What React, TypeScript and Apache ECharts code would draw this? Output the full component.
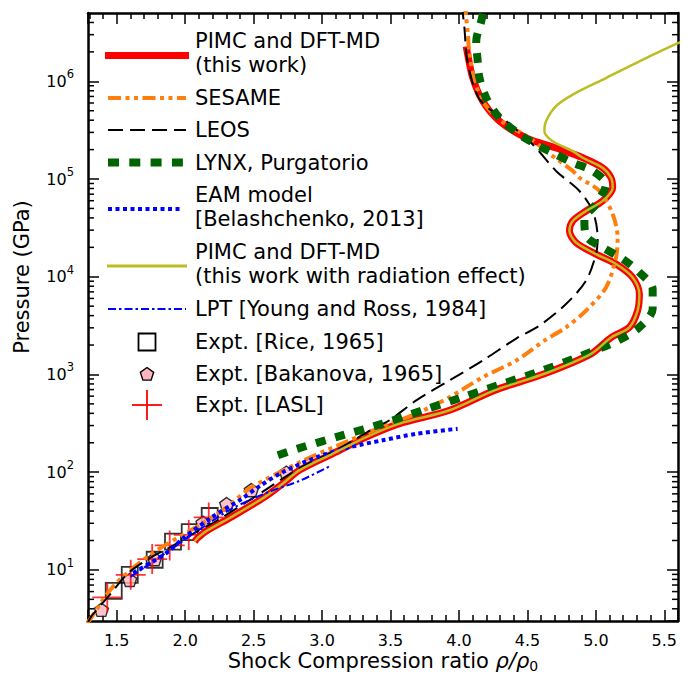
import React, { useEffect, useRef } from 'react';
import * as echarts from 'echarts';

const FONT = "'DejaVu Sans', 'Liberation Sans', sans-serif";
const X_MIN = 1.29;
const X_MAX = 5.6;
const Y_MIN = 3;
const Y_MAX = 5e6;

// PIMC and DFT-MD (this work): branch shared with the radiation curve
const thisWorkShared: [number, number][] = [
  [2.069, 19.5], [2.091, 21.2], [2.155, 25.0], [2.325, 34], [2.58, 55.6], [2.714, 76.7],
  [2.836, 105], [3.079, 155], [3.323, 229], [3.566, 314], [3.931, 430], [4.259, 687],
  [4.624, 1017], [4.965, 1626], [5.111, 2388], [5.245, 3040], [5.305, 4500], [5.318, 6650],
  [5.269, 9840], [5.147, 13500], [5.001, 17060], [4.855, 22400], [4.807, 29400],
  [4.831, 37200], [4.928, 47100], [5.05, 59700], [5.123, 81500], [5.111, 103000],
  [5.05, 130000], [4.904, 165000],
];
// this work, without radiation, high-pressure part
const thisWorkTop: [number, number][] = [
  [4.709, 208000], [4.49, 264000], [4.296, 391000], [4.174, 625000], [4.101, 1.08e6],
  [4.064, 1.87e6], [4.053, 2.28e6],
];
// this work, with radiation effect, high-pressure part
const radiationTop: [number, number][] = [
  [4.831, 193000], [4.685, 244000], [4.624, 309000], [4.636, 391000], [4.709, 556000],
  [4.831, 731000], [5.074, 1.08e6], [5.318, 1.6e6], [5.595, 2.44e6], [5.65, 2.6e6],
];
const sesame: [number, number][] = [
  [1.28, 2.85], [1.303, 3.09], [1.473, 6.76], [1.741, 14.2], [2.106, 28.8], [2.31, 44.3],
  [2.471, 68], [2.836, 126], [3.201, 212], [3.493, 314], [3.688, 397], [3.931, 586],
  [4.174, 938], [4.418, 1390], [4.624, 2220], [4.782, 3040], [4.928, 4500], [5.074, 7780],
  [5.147, 15700], [5.159, 25200], [5.123, 43600], [5.026, 75500], [4.88, 103000],
  [4.831, 121000], [4.636, 193000], [4.515, 264000], [4.3, 400000], [4.174, 625000],
  [4.11, 1.08e6], [4.075, 2.0e6], [4.064, 3.2e6], [4.053, 4.4e6], [4.048, 5.3e6],
];
const leos: [number, number][] = [
  [1.29, 2.9], [1.318, 3.4], [1.449, 5.56], [1.582, 9.25], [1.741, 13.2], [1.899, 17.3],
  [2.069, 23.9], [2.239, 32.4], [2.471, 51.8], [2.836, 110], [3.128, 176], [3.396, 290],
  [3.493, 340], [3.688, 543], [3.931, 869], [4.174, 1390], [4.418, 2330], [4.588, 3160],
  [4.782, 5260], [4.928, 9100], [5.001, 17100], [5.013, 25200], [4.977, 47100],
  [4.88, 75500], [4.709, 121000], [4.539, 226000], [4.345, 391000], [4.15, 655000],
  [4.062, 1.6e6], [4.04, 3.5e6], [4.028, 4.94e6], [4.025, 5.3e6],
];
const lynx: [number, number][] = [
  [2.677, 149], [2.86, 181], [3.152, 239], [3.444, 314], [3.736, 430], [4.028, 586],
  [4.32, 803], [4.612, 1100], [4.867, 1500], [5.159, 2220], [5.318, 3040], [5.415, 4680],
  [5.415, 7480], [5.318, 11070], [5.196, 15200], [5.05, 19900], [4.928, 26200],
  [4.916, 38800], [5.001, 55200], [5.074, 88300], [4.977, 121000], [4.831, 147000],
  [4.685, 185000], [4.564, 226000], [4.442, 286000], [4.296, 423000], [4.199, 676000],
  [4.15, 1.08e6], [4.137, 1.6e6], [4.126, 2.56e6], [4.162, 4.09e6], [4.18, 5.3e6],
];
const eam: [number, number][] = [
  [1.62, 9.3], [1.86, 14.8], [2.0, 21.9], [2.2, 35], [2.41, 53], [2.544, 72], [2.712, 100],
  [2.958, 142], [3.201, 180], [3.442, 212], [3.69, 247], [3.99, 278],
];
const lpt: [number, number][] = [
  [1.6, 8.5], [1.89, 16], [2.14, 28], [2.35, 43], [2.6, 62], [2.84, 82], [3.055, 115],
];
const rice: [number, number][] = [
  [1.478, 6.1], [1.595, 8.9], [1.777, 12.7], [1.911, 19.5], [2.033, 24.4], [2.179, 35.6],
];
const bakanova: [number, number][] = [
  [1.388, 3.91], [1.595, 7.9], [1.777, 12.9], [2.13, 30.4], [2.303, 47.1], [2.483, 65.5],
  [2.739, 98.9],
];
const lasl: [number, number][] = [
  [1.431, 5.24], [1.602, 8.9], [1.759, 12.9], [1.887, 17.8], [2.026, 22.8], [2.172, 34.4],
];

// minor ticks of the log axis (2..9 x 10^n)
const minorY: number[] = [];
for (let n = 0; n <= 6; n++) {
  for (let k = 2; k <= 9; k++) {
    const v = k * Math.pow(10, n);
    if (v > Y_MIN && v < Y_MAX) minorY.push(v);
  }
}

const PENTAGON = 'path://M0,-10 L9.511,-3.09 L5.878,8.09 L-5.878,8.09 L-9.511,-3.09 Z';
const CROSS = 'path://M-15,0 L15,0 M0,-15 L0,15';

function pentagonPoints(cx: number, cy: number, r: number) {
  const pts: number[][] = [];
  for (let i = 0; i < 5; i++) {
    const a = -Math.PI / 2 + (i * 2 * Math.PI) / 5;
    pts.push([cx + r * Math.cos(a), cy + r * Math.sin(a)]);
  }
  return pts;
}

function legendGraphics() {
  const tx = 195;
  const line = (xa: number, xb: number, y: number, color: string, width: number, dash: number[] | null) => ({
    type: 'line',
    silent: true,
    shape: { x1: xa, y1: y, x2: xb, y2: y },
    style: { stroke: color, lineWidth: width, lineDash: dash, lineCap: 'butt' },
  });
  const text = (y: number, t: string) => ({
    type: 'text',
    silent: true,
    x: tx,
    y,
    style: {
      text: t, fill: '#000', fontSize: 21, fontFamily: FONT,
      align: 'left', verticalAlign: 'middle', lineHeight: 24,
    },
  });
  return [
    line(105, 189, 55.5, '#ff0000', 7, null),
    text(53, 'PIMC and DFT-MD\n(this work)'),
    line(108, 186, 98, '#ff7f0e', 4, [13, 4.5, 4, 4.5, 4, 4.5]),
    text(98, 'SESAME'),
    line(108, 186, 130, '#000000', 2, [15, 7]),
    text(130, 'LEOS'),
    line(108, 183, 162.5, '#006400', 8, [11, 10.3]),
    text(162.5, 'LYNX, Purgatorio'),
    line(108, 183, 209, '#0000ff', 4, [4, 3.5]),
    text(207, 'EAM model\n[Belashchenko, 2013]'),
    line(107, 187, 266, '#bcbd22', 3, null),
    text(264, 'PIMC and DFT-MD\n(this work with radiation effect)'),
    line(108, 186, 309, '#0000ff', 2, [8, 3, 2.5, 3]),
    text(309, 'LPT [Young and Ross, 1984]'),
    {
      type: 'rect', silent: true,
      shape: { x: 147 - 8.5, y: 342 - 8.5, width: 17, height: 17 },
      style: { fill: 'none', stroke: '#000', lineWidth: 1.8 },
    },
    text(342, 'Expt. [Rice, 1965]'),
    {
      type: 'polygon', silent: true,
      shape: { points: pentagonPoints(147, 374.5, 7) },
      style: { fill: '#ffb6c1', stroke: '#000', lineWidth: 1.4 },
    },
    text(374, 'Expt. [Bakanova, 1965]'),
    line(132, 162, 405, '#ff0000', 1.8, null),
    {
      type: 'line', silent: true,
      shape: { x1: 147, y1: 390, x2: 147, y2: 420 },
      style: { stroke: '#ff0000', lineWidth: 1.8 },
    },
    text(405, 'Expt. [LASL]'),
  ];
}

export default function App() {
  const ref = useRef<HTMLDivElement>(null);

  useEffect(() => {
    if (!ref.current) return;
    const chart = echarts.init(ref.current, undefined, { renderer: 'svg' });

    const tickStyle = { color: '#000', width: 1.5 };
    const axisLine = { show: true, onZero: false, lineStyle: { color: '#000', width: 2.5 } };

    const xFormatter = (v: number) => {
      const r = Math.round(v * 2) / 2;
      if (Math.abs(v - r) > 1e-6) return '';
      return r.toFixed(1);
    };
    const yFormatter = (v: number) => {
      const e = Math.log10(v);
      const n = Math.round(e);
      if (Math.abs(e - n) > 1e-6) return '';
      return `{b|10}{s|${n}}`;
    };

    const lineSeries = (name: string, data: [number, number][], color: string, width: number, dash: any) => ({
      name,
      type: 'line',
      data,
      showSymbol: false,
      symbol: 'none',
      smooth: 0.3,
      clip: true,
      lineStyle: { color, width, type: dash, cap: 'butt', join: 'round' },
      silent: true,
    });

    const option: any = {
      animation: false,
      backgroundColor: '#ffffff',
      grid: { left: 88, top: 13, width: 590, height: 608, containLabel: false },
      xAxis: [
        {
          type: 'value', min: X_MIN, max: X_MAX, splitNumber: 8, position: 'bottom',
          axisLine, splitLine: { show: false },
          axisTick: { show: true, inside: true, length: 11, lineStyle: tickStyle },
          minorTick: { show: true, splitNumber: 5, length: 6, lineStyle: tickStyle },
          axisLabel: {
            show: true, showMinLabel: false, showMaxLabel: false, formatter: xFormatter,
            fontSize: 16, fontFamily: FONT, color: '#000', margin: 11,
          },
        },
        {
          type: 'value', min: X_MIN, max: X_MAX, splitNumber: 8, position: 'top',
          axisLine, splitLine: { show: false },
          axisTick: { show: true, inside: true, length: 11, lineStyle: tickStyle },
          minorTick: { show: true, splitNumber: 5, length: 6, lineStyle: tickStyle },
          axisLabel: { show: false },
        },
      ],
      yAxis: [
        {
          type: 'log', logBase: 10, min: Y_MIN, max: Y_MAX, position: 'left',
          axisLine, splitLine: { show: false },
          axisTick: { show: true, inside: true, length: 11, lineStyle: tickStyle },
          minorTick: { show: false },
          axisLabel: {
            show: true, showMinLabel: false, showMaxLabel: false, formatter: yFormatter,
            margin: 14,
            rich: {
              b: { fontSize: 16, fontFamily: FONT, color: '#000', lineHeight: 26, verticalAlign: 'middle' },
              s: { fontSize: 11.5, fontFamily: FONT, color: '#000', lineHeight: 13, verticalAlign: 'top' },
            },
          },
        },
        {
          type: 'log', logBase: 10, min: Y_MIN, max: Y_MAX, position: 'right',
          axisLine, splitLine: { show: false },
          axisTick: { show: true, inside: true, length: 11, lineStyle: tickStyle },
          minorTick: { show: false },
          axisLabel: { show: false },
        },
      ],
      series: [
        lineSeries('PIMC and DFT-MD (this work)', thisWorkShared.concat(thisWorkTop), '#ff0000', 7, 'solid'),
        lineSeries('SESAME', sesame, '#ff7f0e', 4, [13, 4.5, 4, 4.5, 4, 4.5]),
        lineSeries('LEOS', leos, '#000000', 2, [15, 7]),
        lineSeries('LYNX, Purgatorio', lynx, '#006400', 8, [10, 10]),
        lineSeries('EAM model', eam, '#0000ff', 4, [4, 3.5]),
        lineSeries('PIMC and DFT-MD (radiation)', thisWorkShared.concat(radiationTop), '#bcbd22', 2.5, 'solid'),
        lineSeries('LPT', lpt, '#0000ff', 2, [8, 3, 2.5, 3]),
        {
          name: 'Expt. [Rice, 1965]', type: 'scatter', data: rice, symbol: 'rect', symbolSize: 16,
          itemStyle: { color: 'rgba(0,0,0,0)', borderColor: '#000', borderWidth: 1.8 }, silent: true,
        },
        {
          name: 'Expt. [Bakanova, 1965]', type: 'scatter', data: bakanova, symbol: PENTAGON,
          symbolSize: 14, symbolKeepAspect: true,
          itemStyle: { color: '#ffb6c1', borderColor: '#000', borderWidth: 1.4 }, silent: true,
        },
        {
          name: 'Expt. [LASL]', type: 'scatter', data: lasl, symbol: CROSS, symbolSize: 30,
          itemStyle: { color: 'rgba(0,0,0,0)', borderColor: '#ff0000', borderWidth: 1.8 }, silent: true,
        },
        {
          name: 'minor-y', type: 'custom', coordinateSystem: 'cartesian2d', silent: true, clip: false,
          z: 10,
          data: minorY.map((v) => [X_MIN, v]),
          renderItem: (_params: any, api: any) => {
            const v = api.value(1);
            const l = api.coord([X_MIN, v]);
            const r = api.coord([X_MAX, v]);
            const st = { stroke: '#000', lineWidth: 1.5 };
            return {
              type: 'group',
              children: [
                { type: 'line', shape: { x1: l[0], y1: l[1], x2: l[0] + 6, y2: l[1] }, style: st },
                { type: 'line', shape: { x1: r[0] - 6, y1: r[1], x2: r[0], y2: r[1] }, style: st },
              ],
            };
          },
        },
      ],
      graphic: [
        ...legendGraphics(),
        {
          type: 'text', silent: true, x: 22, y: 277, rotation: Math.PI / 2,
          style: {
            text: 'Pressure (GPa)', fill: '#000', fontSize: 21, fontFamily: FONT,
            align: 'center', verticalAlign: 'middle',
          },
        },
        {
          type: 'text', silent: true, x: 383, y: 661,
          style: {
            text: 'Shock Compression ratio {i|ρ/ρ}{s|0}', fill: '#000', fontSize: 21,
            fontFamily: FONT, align: 'center', verticalAlign: 'middle', lineHeight: 24,
            rich: {
              i: { fontSize: 21, fontFamily: FONT, fontStyle: 'italic', fill: '#000', lineHeight: 24, verticalAlign: 'middle' },
              s: { fontSize: 14, fontFamily: FONT, fill: '#000', lineHeight: 14, verticalAlign: 'bottom' },
            },
          },
        },
      ],
    };

    chart.setOption(option);
    return () => chart.dispose();
  }, []);

  return (
    <div
      ref={ref}
      style={{ position: 'fixed', left: 0, top: 0, width: 690, height: 676, background: '#fff' }}
    />
  );
}
